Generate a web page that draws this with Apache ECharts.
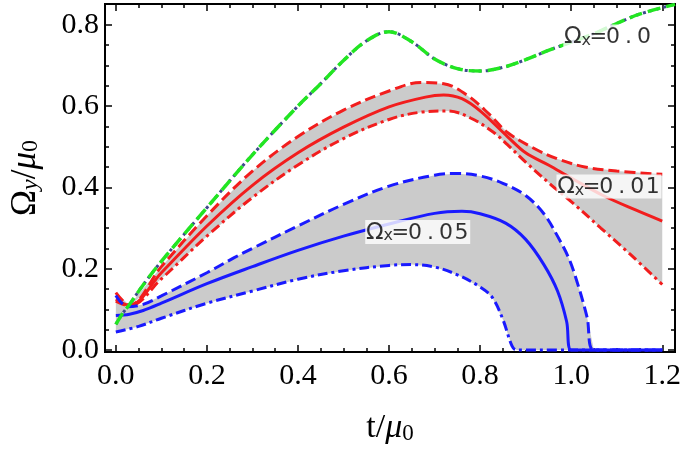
<!DOCTYPE html>
<html><head><meta charset="utf-8">
<script src="https://cdn.jsdelivr.net/npm/echarts@6/dist/echarts.min.js"></script>
<style>html,body{margin:0;padding:0;background:#fff}#c{width:685px;height:450px}</style>
</head><body><div id="c"></div>
<script>
// ---- data (t, Omega_y/mu0) ----
const xTicks = [0, 0.2, 0.4, 0.6, 0.8, 1.0, 1.2];
const xMinorTicks = [0.05, 0.1, 0.15, 0.25, 0.3, 0.35, 0.45, 0.5, 0.55, 0.65, 0.7, 0.75, 0.85, 0.9, 0.95, 1.05, 1.1, 1.15];
const yTicks = [0, 0.2, 0.4, 0.6, 0.8];
const yMinorTicks = [0.05, 0.1, 0.15, 0.25, 0.3, 0.35, 0.45, 0.5, 0.55, 0.65, 0.7, 0.75];

const green = [[0,0.063],[0.015,0.09],[0.03,0.112],[0.06,0.16],[0.1,0.218],[0.2,0.35],[0.3,0.48],[0.4,0.6],[0.45,0.655],[0.5,0.712],[0.55,0.76],[0.6,0.783],[0.65,0.758],[0.7,0.716],[0.75,0.692],[0.8,0.686],[0.85,0.695],[0.9,0.714],[0.95,0.737],[1.0,0.757],[1.05,0.778],[1.1,0.803],[1.15,0.826],[1.228,0.85]];

const redMid = [[0,0.125],[0.03,0.11],[0.1,0.19],[0.2,0.305],[0.3,0.405],[0.4,0.485],[0.5,0.548],[0.6,0.598],[0.68,0.622],[0.72,0.627],[0.76,0.618],[0.8,0.588],[0.86,0.525],[0.9,0.485],[0.95,0.455],[1.0,0.423],[1.07,0.38],[1.14,0.345],[1.2,0.317]];
const redUp = [[0,0.141],[0.03,0.11],[0.1,0.205],[0.2,0.33],[0.3,0.44],[0.4,0.525],[0.5,0.59],[0.6,0.637],[0.67,0.658],[0.72,0.655],[0.77,0.628],[0.82,0.58],[0.86,0.535],[0.92,0.495],[0.97,0.47],[1.03,0.45],[1.1,0.44],[1.2,0.432]];
const redLow = [[0,0.12],[0.03,0.108],[0.1,0.175],[0.2,0.28],[0.3,0.375],[0.4,0.455],[0.5,0.52],[0.6,0.567],[0.67,0.585],[0.73,0.588],[0.78,0.57],[0.83,0.535],[0.86,0.505],[0.9,0.462],[0.957,0.405],[1.0,0.365],[1.065,0.3],[1.13,0.235],[1.2,0.161]];

const blueMid = [[0,0.085],[0.03,0.088],[0.06,0.097],[0.1,0.115],[0.2,0.163],[0.3,0.205],[0.4,0.245],[0.5,0.28],[0.6,0.31],[0.7,0.336],[0.76,0.341],[0.8,0.335],[0.856,0.312],[0.9,0.272],[0.94,0.21],[0.97,0.145],[0.99,0.07],[1.0,0.0],[1.2,0.0]];
const blueUp = [[0,0.134],[0.026,0.106],[0.06,0.112],[0.1,0.133],[0.2,0.19],[0.26,0.227],[0.3,0.25],[0.4,0.305],[0.5,0.358],[0.6,0.403],[0.7,0.43],[0.75,0.434],[0.8,0.428],[0.85,0.41],[0.9,0.38],[0.94,0.335],[0.97,0.28],[0.995,0.225],[1.015,0.16],[1.035,0.08],[1.05,0.0],[1.2,0.0]];
const blueLow = [[0,0.044],[0.05,0.058],[0.1,0.078],[0.2,0.115],[0.3,0.145],[0.4,0.174],[0.5,0.195],[0.6,0.208],[0.65,0.21],[0.7,0.204],[0.75,0.185],[0.8,0.155],[0.827,0.129],[0.85,0.075],[0.87,0.01],[0.88,0.0],[1.2,0.0]];

const annotations = [
  {t: 1.081, v: 0.771, text: '0.0'},
  {t: 1.083, v: 0.402, text: '0.01'},
  {t: 0.663, v: 0.290, text: '0.05'}
];

const XMIN = -0.0238, XMAX = 1.228, YMIN = -0.005, YMAX = 0.851;
const SERIF = 'Liberation Serif';

function valueAxis(pos, isX, ticks, tickLen, withLabel) {
  return {
    type: 'value', position: pos, gridIndex: 0,
    min: isX ? XMIN : YMIN, max: isX ? XMAX : YMAX,
    axisLine: {show: false, onZero: false},
    splitLine: {show: false},
    axisTick: {show: true, inside: true, length: tickLen, customValues: ticks, lineStyle: {color: '#000', width: 1.5}},
    axisLabel: withLabel ? {
      show: true, customValues: ticks,
      formatter: v => '{a|' + v.toFixed(1) + '}',
      rich: {a: {fontFamily: SERIF, fontSize: 30, color: '#000'}},
      fontFamily: SERIF, fontSize: 30, color: '#000', margin: isX ? 9 : 6
    } : {show: false}
  };
}

const xAxes = [
  valueAxis('bottom', true, xTicks, 7, true),
  valueAxis('bottom', true, xMinorTicks, 4, false),
  valueAxis('top', true, xTicks, 7, false),
  valueAxis('top', true, xMinorTicks, 4, false)
];
xAxes[0].name = '{t|t/}{m|μ}{z|0}';
xAxes[0].nameLocation = 'middle';
xAxes[0].nameGap = 55;
xAxes[0].nameTextStyle = {
  rich: {
    t: {fontFamily: SERIF, fontSize: 34, color: '#000', lineHeight: 38, verticalAlign: 'bottom'},
    m: {fontFamily: SERIF, fontStyle: 'italic', fontSize: 34, color: '#000', lineHeight: 38, verticalAlign: 'bottom'},
    z: {fontFamily: SERIF, fontSize: 23, color: '#000', lineHeight: 27, verticalAlign: 'bottom'}
  }
};

const yAxes = [
  valueAxis('left', false, yTicks, 7, true),
  valueAxis('left', false, yMinorTicks, 4, false),
  valueAxis('right', false, yTicks, 7, false),
  valueAxis('right', false, yMinorTicks, 4, false)
];
yAxes[0].name = '{o|Ω}{s|y}{t|/}{m|μ}{z|0}';
yAxes[0].nameLocation = 'middle';
yAxes[0].nameRotate = 90;
yAxes[0].nameGap = 62;
yAxes[0].nameTextStyle = {
  rich: {
    o: {fontFamily: SERIF, fontSize: 35, color: '#000', lineHeight: 38, verticalAlign: 'bottom'},
    s: {fontFamily: SERIF, fontStyle: 'italic', fontSize: 24, color: '#000', lineHeight: 27, verticalAlign: 'bottom'},
    t: {fontFamily: SERIF, fontSize: 35, color: '#000', lineHeight: 38, verticalAlign: 'bottom'},
    m: {fontFamily: SERIF, fontStyle: 'italic', fontSize: 35, color: '#000', lineHeight: 38, verticalAlign: 'bottom'},
    z: {fontFamily: SERIF, fontSize: 24, color: '#000', lineHeight: 27, verticalAlign: 'bottom'}
  }
};

function band(upper, lower) {
  return {
    type: 'custom', xAxisIndex: 0, yAxisIndex: 0, silent: true, z: 1, clip: true,
    data: [[0, 0]],
    renderItem: function (params, api) {
      const pts = upper.map(p => api.coord(p)).concat(lower.slice().reverse().map(p => api.coord(p)));
      return {type: 'polygon', shape: {points: pts}, style: {fill: '#cbcbcb'}};
    }
  };
}

function line(data, color, type, z, width) {
  return {
    type: 'line', xAxisIndex: 0, yAxisIndex: 0, data: data, symbol: 'none', smooth: 0.35,
    silent: true, z: z || 3, clip: true,
    lineStyle: {color: color, width: width || 3, type: type}
  };
}

const DASH = [11, 5];
const DASHDOT = [10, 4, 3, 4];

function annLabel(s) {
  return '{o|Ω}{s|x}{e|=}' + s.split('').map(c => '{d|' + c + '}').join('');
}

const option = {
  animation: false,
  backgroundColor: '#fff',
  textStyle: {fontFamily: SERIF},
  grid: {left: 97, top: 4, width: 578, height: 351, show: true, borderColor: '#000', borderWidth: 2, backgroundColor: 'transparent'},
  xAxis: xAxes,
  yAxis: yAxes,
  series: [
    band(redUp, redLow),
    band(blueUp, blueLow),
    line(green, '#3d4a8c', [3, 4], 3, 3),
    line(green, '#22e622', [13, 6], 4, 3.5),
    line(redUp, '#f21d1d', DASH),
    line(redLow, '#f21d1d', DASHDOT),
    line(redMid, '#f21d1d', 'solid'),
    line(blueUp, '#1a1aff', DASH),
    line(blueLow, '#1a1aff', DASHDOT),
    line(blueMid, '#1a1aff', 'solid'),
    {
      type: 'scatter', xAxisIndex: 0, yAxisIndex: 0, z: 10, silent: true,
      symbol: 'circle', symbolSize: 1, itemStyle: {color: 'rgba(0,0,0,0)'},
      data: annotations.map(a => ({value: [a.t, a.v], name: a.text})),
      label: {
        show: true, position: 'inside',
        formatter: p => annLabel(p.name),
        backgroundColor: '#fff', padding: [0, 1, 0, 1],
        rich: {
          o: {fontFamily: 'DejaVu Sans', fontSize: 23, color: '#000', lineHeight: 24, verticalAlign: 'bottom', width: 17, align: 'center'},
          s: {fontFamily: 'DejaVu Sans', fontSize: 16, color: '#000', lineHeight: 16, verticalAlign: 'bottom', width: 10, align: 'center'},
          e: {fontFamily: 'DejaVu Sans', fontSize: 21, color: '#000', lineHeight: 24, verticalAlign: 'bottom', width: 14, align: 'center'},
          d: {fontFamily: 'DejaVu Sans', fontSize: 22, color: '#000', lineHeight: 24, verticalAlign: 'bottom', width: 15.5, align: 'center'}
        }
      }
    }
  ]
};

const chart = echarts.init(document.getElementById('c'), null, {renderer: 'canvas'});
chart.setOption(option);
</script>
</body></html>
